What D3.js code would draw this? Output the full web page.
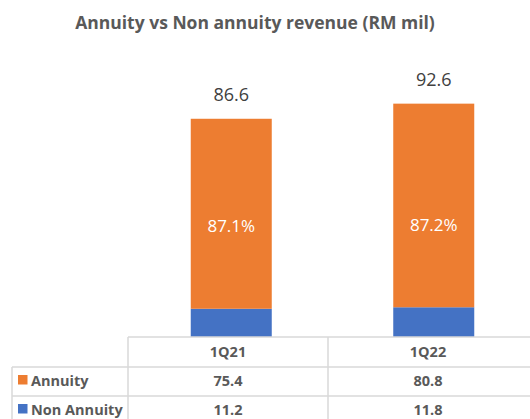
<!DOCTYPE html>
<html>
<head>
<meta charset="utf-8">
<script src="https://cdn.jsdelivr.net/npm/d3@7"></script>
<style>
  body { margin: 0; background: #fff; }
  text { font-family: "Open Sans", "Noto Sans", sans-serif; }
</style>
</head>
<body>
<div id="chart"></div>
<script>
// Data
const categories = ["1Q21", "1Q22"];
const annuity = [75.4, 80.8];
const nonAnnuity = [11.2, 11.8];
const totals = [86.6, 92.6];
const shareLabels = ["87.1%", "87.2%"];
const seriesNames = ["Annuity", "Non Annuity"];
const seriesColors = ["#ED7D31", "#4472C4"];

const W = 530, H = 419;
const baseY = 337;

const svg = d3.select("#chart").append("svg")
    .attr("width", W)
    .attr("height", H);

// Title
svg.append("text")
    .attr("x", 255)
    .attr("y", 29)
    .attr("text-anchor", "middle")
    .attr("font-size", 17.5)
    .attr("font-weight", "bold")
    .attr("fill", "#595959")
    .text("Annuity vs Non annuity revenue (RM mil)");

// Scales
const xScale = d3.scaleBand()
    .domain(categories)
    .range([130, 535])
    .paddingInner(0.6)
    .paddingOuter(0.3);

const yScale = d3.scaleLinear()
    .domain([0, 100])
    .range([baseY, baseY - 252]);

const stacked = categories.map((c, i) => ({
    cat: c, non: nonAnnuity[i], ann: annuity[i], total: totals[i], share: shareLabels[i]
}));

// Non annuity segment
svg.selectAll(".bar-non")
    .data(stacked)
    .join("rect")
    .attr("class", "bar-non")
    .attr("x", d => xScale(d.cat))
    .attr("width", xScale.bandwidth())
    .attr("y", d => yScale(d.non))
    .attr("height", d => yScale(0) - yScale(d.non))
    .attr("fill", seriesColors[1]);

// Annuity segment
svg.selectAll(".bar-ann")
    .data(stacked)
    .join("rect")
    .attr("class", "bar-ann")
    .attr("x", d => xScale(d.cat))
    .attr("width", xScale.bandwidth())
    .attr("y", d => yScale(d.non + d.ann))
    .attr("height", d => yScale(d.non) - yScale(d.non + d.ann))
    .attr("fill", seriesColors[0]);

// Percent labels inside annuity
svg.selectAll(".share")
    .data(stacked)
    .join("text")
    .attr("class", "share")
    .attr("x", d => xScale(d.cat) + xScale.bandwidth() / 2)
    .attr("y", (d, i) => yScale(41.5) - i * 1.5)
    .attr("text-anchor", "middle")
    .attr("font-size", 17)
    .attr("fill", "#fff")
    .text(d => d.share);

// Total labels
svg.selectAll(".total")
    .data(stacked)
    .join("text")
    .attr("class", "total")
    .attr("x", d => xScale(d.cat) + xScale.bandwidth() / 2)
    .attr("y", d => yScale(d.total) - 18)
    .attr("text-anchor", "middle")
    .attr("font-size", 18)
    .attr("fill", "#404040")
    .text(d => d.total.toFixed(1));

// Data table
const colScale = d3.scaleBand()
    .domain(categories)
    .range([128, 528]);

const rowTop = [baseY, 367, 396];
const grid = svg.append("g")
    .attr("stroke", "#d9d9d9")
    .attr("stroke-width", 1.5);

grid.append("line").attr("x1", 128).attr("x2", W).attr("y1", rowTop[0]).attr("y2", rowTop[0]);
grid.append("line").attr("x1", 12).attr("x2", W).attr("y1", rowTop[1]).attr("y2", rowTop[1]);
grid.append("line").attr("x1", 12).attr("x2", W).attr("y1", rowTop[2]).attr("y2", rowTop[2]);
grid.append("line").attr("x1", 12).attr("x2", 12).attr("y1", rowTop[1]).attr("y2", H);
categories.forEach(c => {
    grid.append("line")
        .attr("x1", colScale(c)).attr("x2", colScale(c))
        .attr("y1", rowTop[0]).attr("y2", H);
});

const tableText = { "font-size": 14.5, "font-weight": "bold", "fill": "#595959" };

function styled(sel) {
    Object.entries(tableText).forEach(([k, v]) => sel.attr(k, v));
    return sel;
}

styled(svg.selectAll(".hdr")
    .data(categories)
    .join("text")
    .attr("class", "hdr")
    .attr("x", d => colScale(d) + colScale.bandwidth() / 2)
    .attr("y", 357)
    .attr("text-anchor", "middle")
    .text(d => d));

const rows = [annuity, nonAnnuity];
rows.forEach((vals, r) => {
    const y = r === 0 ? 386 : 415;
    svg.append("rect")
        .attr("x", 18)
        .attr("y", y - 11)
        .attr("width", 9.5)
        .attr("height", 9.5)
        .attr("fill", seriesColors[r]);
    styled(svg.append("text")
        .attr("x", 31)
        .attr("y", y)
        .text(seriesNames[r]));
    styled(svg.selectAll(".v" + r)
        .data(vals)
        .join("text")
        .attr("class", "v" + r)
        .attr("x", (d, i) => colScale(categories[i]) + colScale.bandwidth() / 2)
        .attr("y", y)
        .attr("text-anchor", "middle")
        .text(d => d.toFixed(1)));
});
</script>
</body>
</html>
